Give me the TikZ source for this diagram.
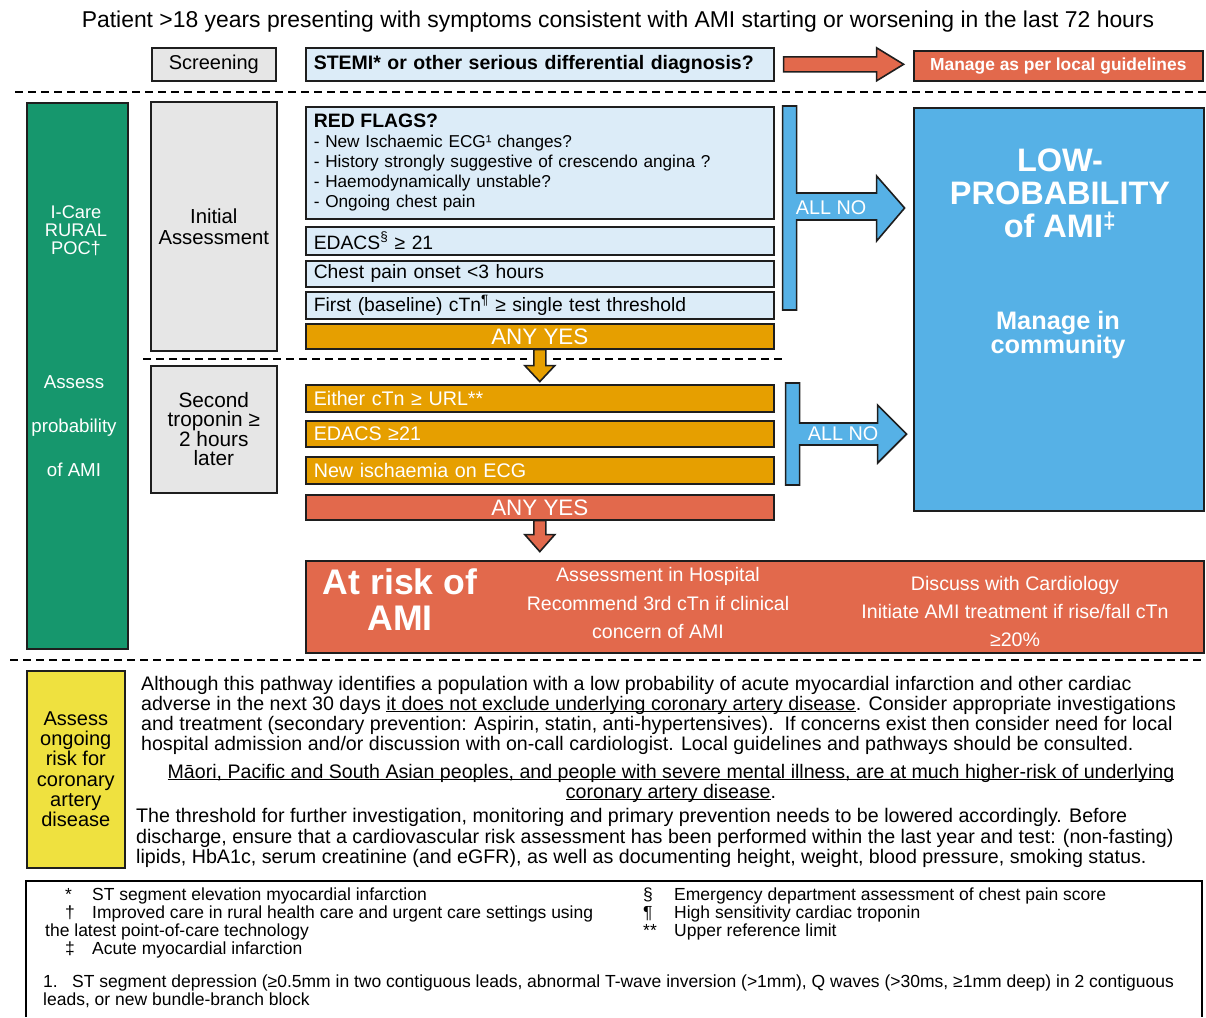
\documentclass[tikz,border=0pt]{standalone}
\usepackage{fontspec}
\usepackage{xcolor}
\setmainfont{Liberation Sans}
\newcommand{\setfs}[2]{\fontsize{#1}{#2}\selectfont\lineskiplimit=-20pt\relax}
\newcommand{\uln}[1]{\underline{\smash{#1}}}

\definecolor{careGreen}{HTML}{16976D}
\definecolor{boxGray}{HTML}{E6E6E6}
\definecolor{paleBlue}{HTML}{DCECF8}
\definecolor{flagOrange}{HTML}{E69F00}
\definecolor{riskRed}{HTML}{E2694C}
\definecolor{lowBlue}{HTML}{56B1E6}
\definecolor{noteYellow}{HTML}{EFE13F}
\definecolor{edge}{HTML}{1E1E1E}

\begin{document}
\begin{tikzpicture}[x=1pt,y=-1pt,
    box/.style={draw=edge, line width=1.6pt, inner sep=0pt, anchor=north west},
    rowbox/.style={box, fill=paleBlue, minimum width=468pt, text width=452pt, inner xsep=8pt, align=left},
    flagbox/.style={box, fill=flagOrange, text=white, minimum width=468pt, text width=452pt, inner xsep=8pt, align=left, font={\setfs{19.7}{22}}},
    yesbox/.style={box, text=white, minimum width=468pt, font={\setfs{22.4}{24}}},
    blockarrow/.style={draw=edge, line width=1.6pt},
    sep/.style={line width=2pt, dash pattern=on 8pt off 5pt},
    label/.style={inner sep=0pt, align=center}]
\useasboundingbox (0,0) rectangle (1206,1017);

% top
\node[label, font={\setfs{22.9}{24}}] (title) at (618,22) {Patient >18 years presenting with symptoms consistent with AMI starting or worsening in the last 72 hours};
\node[box, fill=boxGray, minimum width=124pt, minimum height=33pt, font={\setfs{20}{22}}] (screen) at (151,47) {Screening};
\node[rowbox, minimum height=33pt, font={\bfseries\setfs{19.5}{22}}] (stemi) at (305,47) {STEMI* or other serious differential diagnosis?};
\node[box, fill=riskRed, text=white, minimum width=289pt, minimum height=30pt, font={\bfseries\setfs{17.4}{19}}] (local) at (913,50) {Manage as per local guidelines};
\draw[blockarrow, fill=riskRed, shift={(stemi.east)}] (9,-7.5) -- (102,-7.5) -- (102,-16.5) -- (129,0) -- (102,16.5) -- (102,7.5) -- (9,7.5) -- cycle;

\draw[sep] (15,92) -- (1206,92);

% left column
\node[box, fill=careGreen, minimum width=101pt, minimum height=546pt] (poc) at (26,102) {};
\node[label, text=white, font={\setfs{18.3}{18}}] (poclabel) at (76,231) {I-Care\\RURAL\\POC†};
\node[label, text=white, font={\setfs{18.7}{44}}] (assess) at (74,426) {Assess\\probability\\of AMI};
\node[box, fill=boxGray, minimum width=126pt, minimum height=249pt, align=center, font={\setfs{20.3}{21}}] (initial) at (150,101) {Initial\\Assessment};
\node[box, fill=boxGray, minimum width=126pt, minimum height=127pt, align=center, font={\setfs{20.8}{19.5}}] (second) at (150,365) {Second\\troponin ≥\\2 hours\\later};

% initial assessment
\node[rowbox, minimum height=112pt, font={\setfs{17.2}{20}}] (flags) at (305,106) {{\bfseries\setfs{19.4}{20}RED FLAGS?}\\- New Ischaemic ECG¹ changes?\\- History strongly suggestive of crescendo angina ?\\- Haemodynamically unstable?\\- Ongoing chest pain};
\node[rowbox, minimum height=28pt, font={\setfs{19.3}{21}}] (edacs) at (305,226) {EDACS\textsuperscript{§} ≥ 21};
\node[rowbox, minimum height=26pt, font={\setfs{19.3}{21}}] (onset) at (305,260) {Chest pain onset <3 hours};
\node[rowbox, minimum height=27pt, font={\setfs{19.3}{21}}] (baseline) at (305,291) {First (baseline) cTn\textsuperscript{¶} ≥ single test threshold};
\node[yesbox, fill=flagOrange, minimum height=25pt] (anyyes1) at (305,323) {ANY YES};

\draw[blockarrow, fill=lowBlue, shift={(flags.north east)}] (8,0) -- (22,0) -- (22,87) -- (102,87) -- (102,70) -- (130,102) -- (102,135) -- (102,114) -- (22,114) -- (22,204) -- (8,204) -- cycle;
\node[label, text=white, font={\setfs{19.8}{20}}] (allno1) at (831,208) {ALL NO};

\draw[sep] (143,359) -- (527,359);
\draw[sep] (553,359) -- (785,359);
\draw[blockarrow, fill=flagOrange, shift={(anyyes1.south)}] (-6,0) -- (6,0) -- (6,16) -- (15,16) -- (0,32) -- (-15,16) -- (-6,16) -- cycle;

% second troponin
\node[flagbox, minimum height=27pt] (either) at (305,384) {Either cTn ≥ URL**};
\node[flagbox, minimum height=26pt] (edacs2) at (305,420) {EDACS ≥21};
\node[flagbox, minimum height=27pt] (ischaemia) at (305,456) {New ischaemia on ECG};
\node[yesbox, fill=riskRed, minimum height=25pt] (anyyes2) at (305,494) {ANY YES};

\draw[blockarrow, fill=lowBlue, shift={(either.north east)}] (11,-1) -- (25,-1) -- (25,39) -- (103,39) -- (103,21) -- (132,50) -- (103,79) -- (103,61) -- (25,61) -- (25,101) -- (11,101) -- cycle;
\node[label, text=white, font={\setfs{19.8}{20}}] (allno2) at (843,434) {ALL NO};
\draw[blockarrow, fill=riskRed, shift={(anyyes2.south)}] (-6,0) -- (6,0) -- (6,14) -- (15,14) -- (0,31) -- (-15,14) -- (-6,14) -- cycle;

% outcomes
\node[box, fill=lowBlue, minimum width=290pt, minimum height=403pt] (lowprob) at (913,107) {};
\node[label, text=white, font={\bfseries\setfs{32.5}{33}}] (lowtitle) at (1060,193) {LOW-\\PROBABILITY\\of AMI\textsuperscript{‡}};
\node[label, text=white, font={\bfseries\setfs{25.3}{24}}] (community) at (1058,335) {Manage in\\community};

\node[box, fill=riskRed, minimum width=898pt, minimum height=92pt] (risk) at (305,560) {};
\node[label, text=white, font={\bfseries\setfs{35.6}{36}}] (riskhead) at (400,600) {At risk of\\AMI};
\node[label, text=white, font={\setfs{19.6}{28.5}}] (hospital) at (658,603) {Assessment in Hospital\\Recommend 3rd cTn if clinical\\concern of AMI};
\node[label, text=white, font={\setfs{19.6}{28}}] (cardio) at (1015,611) {Discuss with Cardiology\\Initiate AMI treatment if rise/fall cTn\\≥20\%};

\draw[sep] (10,660) -- (1206,660);

% ongoing risk
\node[box, fill=noteYellow, minimum width=98pt, minimum height=197pt, align=center, font={\setfs{20}{20.3}}] (ongoing) at (26,670) {Assess\\ongoing\\risk for\\coronary\\artery\\disease};
\node[label, anchor=west, align=left, font={\setfs{19.6}{20}}] (para1) at (141,715) {Although this pathway identifies a population with a low probability of acute myocardial infarction and other cardiac\\adverse in the next 30 days \uln{it does not exclude underlying coronary artery disease}. Consider appropriate investigations\\and treatment (secondary prevention: Aspirin, statin, anti-hypertensives).\ \ If concerns exist then consider need for local\\hospital admission and/or discussion with on-call cardiologist. Local guidelines and pathways should be consulted.};
\node[label, font={\setfs{19.6}{20}}] (para2) at (671,789) {\uln{Māori, Pacific and South Asian peoples, and people with severe mental illness, are at much higher-risk of underlying}\\\uln{coronary artery disease}.};
\node[label, anchor=west, align=left, font={\setfs{19.65}{20.5}}] (para3) at (136,838) {The threshold for further investigation, monitoring and primary prevention needs to be lowered accordingly. Before\\discharge, ensure that a cardiovascular risk assessment has been performed within the last year and test: (non-fasting)\\lipids, HbA1c, serum creatinine (and eGFR), as well as documenting height, weight, blood pressure, smoking status.};

% footnotes
\draw[line width=1.6pt] (26,1017) -- (26,881) -- (1202,881) -- (1202,1017);
\node[label, anchor=west, align=left, font={\setfs{17.5}{18}}] (notesleft) at (45,923) {\hspace*{20pt}\makebox[27pt][l]{*}ST segment elevation myocardial infarction\\\hspace*{20pt}\makebox[27pt][l]{†}Improved care in rural health care and urgent care settings using\\the latest point-of-care technology\\\hspace*{20pt}\makebox[27pt][l]{‡}Acute myocardial infarction};
\node[label, anchor=west, align=left, font={\setfs{17.5}{18}}] (notesright) at (643,914) {\makebox[31pt][l]{§}Emergency department assessment of chest pain score\\\makebox[31pt][l]{¶}High sensitivity cardiac troponin\\\makebox[31pt][l]{**}Upper reference limit};
\node[label, anchor=west, align=left, font={\setfs{17.5}{18}}] (notebelow) at (43,991) {\makebox[29pt][l]{1.}ST segment depression (≥0.5mm in two contiguous leads, abnormal T-wave inversion (>1mm), Q waves (>30ms, ≥1mm deep) in 2 contiguous\\leads, or new bundle-branch block};
\end{tikzpicture}
\end{document}
